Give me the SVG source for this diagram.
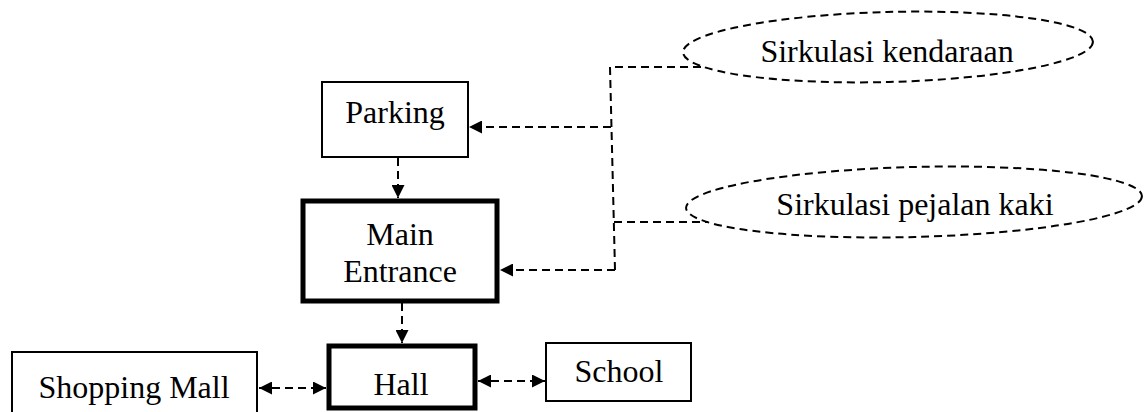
<svg xmlns="http://www.w3.org/2000/svg" width="1144" height="412" viewBox="0 0 1144 412">
<style>
.box{fill:#fff;stroke:#000;stroke-width:2}
.thick{fill:#fff;stroke:#000;stroke-width:5}
.oval{fill:none;stroke:#000;stroke-width:2;stroke-dasharray:8 5}
.con{fill:none;stroke:#000;stroke-width:2;stroke-dasharray:8 5}
.t{font-family:"Liberation Serif","Times New Roman",serif;font-size:32px;fill:#000;text-anchor:middle}
</style>
<defs>
<marker id="ah" viewBox="0 0 13 13" refX="13" refY="6.5" markerWidth="13" markerHeight="13" markerUnits="userSpaceOnUse" orient="auto-start-reverse">
<path d="M0,0 L13,6.5 L0,13 z" fill="#000"/>
</marker>
</defs>
<rect width="1144" height="412" fill="#fff"/>
<g id="connectors">
<line class="con" x1="398" y1="158" x2="398" y2="198" marker-end="url(#ah)"/>
<line class="con" x1="402" y1="303" x2="402" y2="343" marker-end="url(#ah)"/>
<line class="con" x1="259" y1="388" x2="326" y2="388" marker-start="url(#ah)" marker-end="url(#ah)"/>
<line class="con" x1="478" y1="381" x2="545" y2="381" marker-start="url(#ah)" marker-end="url(#ah)"/>
<polyline class="con" points="701,67 610,67 615,270"/>
<line class="con" x1="611" y1="127" x2="469" y2="127" marker-end="url(#ah)"/>
<line class="con" x1="615" y1="270" x2="500" y2="270" marker-end="url(#ah)"/>
<line class="con" x1="614" y1="222" x2="708" y2="222"/>
</g>
<g id="sirkulasi-kendaraan">
<ellipse class="oval" cx="888" cy="47" rx="205" ry="35" transform="rotate(-1.5 888 47)"/>
<text class="t" x="887" y="62">Sirkulasi kendaraan</text>
</g>
<g id="sirkulasi-pejalan">
<ellipse class="oval" cx="914" cy="202" rx="228" ry="35" transform="rotate(-1.5 914 202)"/>
<text class="t" x="915" y="215">Sirkulasi pejalan kaki</text>
</g>
<g id="parking">
<rect class="box" x="322" y="82" width="146" height="75"/>
<text class="t" x="395" y="123">Parking</text>
</g>
<g id="main-entrance">
<rect class="thick" x="303" y="201" width="194" height="100"/>
<text class="t" x="400" y="245">Main</text>
<text class="t" x="400" y="282">Entrance</text>
</g>
<g id="hall">
<rect class="thick" x="329" y="346" width="146" height="62"/>
<text class="t" x="401" y="395">Hall</text>
</g>
<g id="shopping-mall">
<rect class="box" x="12" y="352" width="245" height="70"/>
<text class="t" x="134" y="398">Shopping Mall</text>
</g>
<g id="school">
<rect class="box" x="546" y="343" width="145" height="58"/>
<text class="t" x="619" y="382">School</text>
</g>
</svg>
